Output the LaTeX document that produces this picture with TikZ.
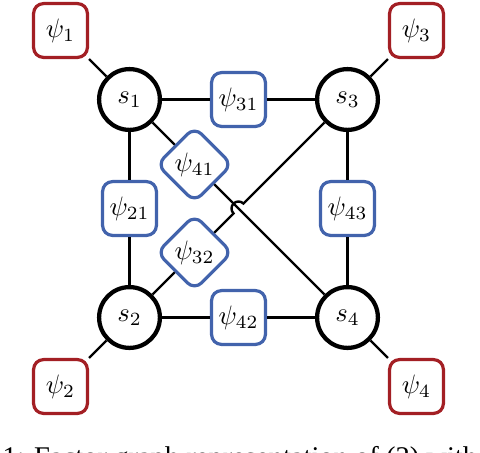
\documentclass[tikz,border=0pt]{standalone}
\usepackage{fontspec}
\newfontfamily\capfont{Liberation Serif}
\usetikzlibrary{shapes.geometric,calc}
\definecolor{unaryred}{RGB}{163,31,36}
\definecolor{pairblue}{RGB}{66,99,172}

\begin{document}
\begin{tikzpicture}[x=0.375pt,y=0.375pt,
  var/.style={circle,draw,line width=1.6pt,minimum size=22.8pt,inner sep=0pt},
  unary/.style={draw=unaryred,line width=1.2pt,rounded corners=3.75pt,minimum size=20.2pt,inner sep=0pt},
  pair/.style={draw=pairblue,line width=1.2pt,rounded corners=3.75pt,minimum size=20.2pt,inner sep=0pt},
  pairdiam/.style={diamond,draw=pairblue,line width=1.2pt,rounded corners=3.75pt,minimum size=28.6pt,inner sep=0pt},
  edge/.style={line width=0.9pt}]
  \useasboundingbox (0,0) rectangle (480,452);
  \clip (0,0) rectangle (480,452);

  % variables
  \node [var] (s1) at (129.5,352.5) {$s_1$};
  \node [var] (s3) at (347.5,352.5) {$s_3$};
  \node [var] (s2) at (129.5,134.5) {$s_2$};
  \node [var] (s4) at (347.5,134.5) {$s_4$};

  % unary factors
  \node [unary] (p1) at (60.5,421.5) {$\psi_1$};
  \node [unary] (p3) at (416.5,421.5) {$\psi_3$};
  \node [unary] (p2) at (60.5,65.5) {$\psi_2$};
  \node [unary] (p4) at (416.5,65.5) {$\psi_4$};

  % pairwise factors
  \node [pair] (f31) at (238.5,352.5) {$\psi_{31}$};
  \node [pair] (f42) at (238.5,134.5) {$\psi_{42}$};
  \node [pair] (f21) at (129.5,243.5) {$\psi_{21}$};
  \node [pair] (f43) at (347.5,243.5) {$\psi_{43}$};
  \node [pairdiam] (f41) at (194.5,287.5) {$\psi_{41}$};
  \node [pairdiam] (f32) at (194.5,199.5) {$\psi_{32}$};
  \coordinate (x) at (238.5,243.5);

  \draw [edge] (p1) -- (s1);
  \draw [edge] (p3) -- (s3);
  \draw [edge] (p2) -- (s2);
  \draw [edge] (p4) -- (s4);

  \draw [edge] (s1) -- (f31) -- (s3);
  \draw [edge] (s2) -- (f42) -- (s4);
  \draw [edge] (s1) -- (f21) -- (s2);
  \draw [edge] (s3) -- (f43) -- (s4);
  \draw [edge] (s1) -- (f41) -- (s4);
  \draw [edge] (s2) -- (f32) -- ($(x)+(225:7)$) arc [start angle=225,end angle=45,radius=7] -- (s3);

  \node [anchor=base west,inner sep=0pt,font=\capfont\fontsize{10.7}{12}\selectfont] (cap) at (2,-14.4) {1: Factor graph representation of (2) with};

\end{tikzpicture}
\end{document}
